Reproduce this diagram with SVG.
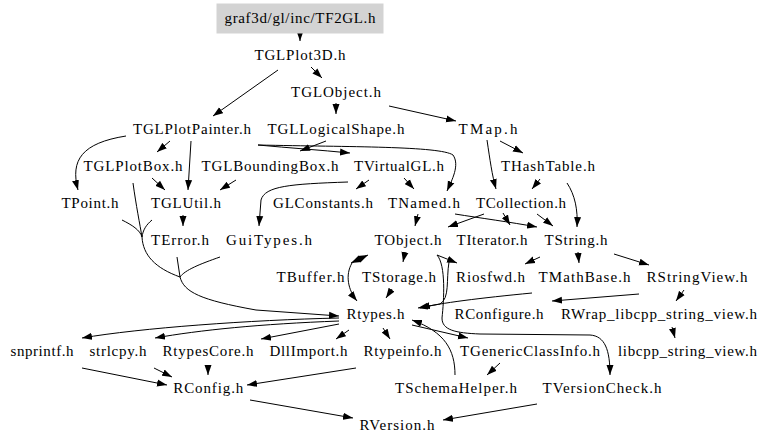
<svg xmlns="http://www.w3.org/2000/svg" width="768" height="447" viewBox="0 0 768 447">
<defs>
<style>
text{font-family:"Liberation Serif","Times New Roman",serif;font-size:15px;fill:#000;text-anchor:middle}
.e{fill:none;stroke:#000;stroke-width:1}
.a{marker-end:url(#ah)}
</style>
<marker id="ah" markerUnits="userSpaceOnUse" markerWidth="10" markerHeight="8" refX="10" refY="4" orient="auto"><path d="M0,0.5 L10,4 L0,7.5 z" fill="#000"/></marker>
</defs>
<rect width="768" height="447" fill="#fff"/>
<g id="edges">
<path class="e a" d="M300,33 L300,41"/>
<path class="e a" d="M311,67 L322,78"/>
<path class="e a" d="M278,70 L213,116"/>
<path class="e a" d="M336,103 L336,114"/>
<path class="e a" d="M389,106 L456,121"/>
<path class="e a" d="M170,141 L157,152"/>
<path class="e a" d="M191,141 L188,190"/>
<path class="e a" d="M126,136 C82,143 70,160 78,190"/>
<path class="e a" d="M258,145 C290,148 320,150 350,153"/>
<path class="e a" d="M258,145 C350,147 440,146 453,155 C460,165 452,180 447,191"/>
<path class="e a" d="M326,141 L300,151"/>
<path class="e a" d="M500,141 L523,153"/>
<path class="e a" d="M487,140 C490,160 492,175 496,189"/>
<path class="e a" d="M152,178 L165,190"/>
<path class="e a" d="M236,180 L220,190"/>
<path class="e a" d="M369,180 L356,189"/>
<path class="e a" d="M404,178 L414,189"/>
<path class="e a" d="M348,182 C290,184 265,186 261,200 L259,226"/>
<path class="e a" d="M540,179 L532,189"/>
<path class="e a" d="M567,183 C575,195 578,210 577,227"/>
<path class="e a" d="M418,214 L415,226"/>
<path class="e a" d="M484,214 L448,227"/>
<path class="e a" d="M455,214 C480,218 510,222 537,227"/>
<path class="e a" d="M503,213 L510,225"/>
<path class="e a" d="M537,214 L553,226"/>
<path class="e a" d="M183,215 L183,226"/>
<path class="e a" d="M405,252 L403,262"/>
<path class="e a" d="M366,256 L351,263"/>
<path class="e a" d="M353,262 L368,255"/>
<path class="e a" d="M352,263 C345,275 348,290 357,301"/>
<path class="e a" d="M437,255 L457,263"/>
<path class="e a" d="M437,255 C446,265 444,300 442,318 C442,330 455,333 480,334 L590,335 C605,336 610,350 610,375"/>
<path class="e a" d="M449,262 C446,280 450,298 440,304 L418,308"/>
<path class="e a" d="M540,257 L525,264"/>
<path class="e a" d="M578,252 L579,263"/>
<path class="e a" d="M614,254 L649,265"/>
<path class="e a" d="M532,293 C480,298 440,303 420,308"/>
<path class="e a" d="M639,294 L552,301"/>
<path class="e a" d="M684,290 L676,301"/>
<path class="e a" d="M672,327 L675,338"/>
<path class="e a" d="M392,289 L386,298"/>
<path class="e" d="M133,183 C136,205 140,225 142,237"/>
<path class="e" d="M122,220 C132,225 140,230 142,237"/>
<path class="e" d="M152,220 C146,225 143,230 142,237"/>
<path class="e" d="M142,237 C143,255 155,268 180,277"/>
<path class="e" d="M177,257 L180,277"/>
<path class="e" d="M220,257 C200,264 185,270 180,277"/>
<path class="e a" d="M180,277 C184,292 200,300 256,310 L339,316"/>
<path class="e a" d="M339,318 C250,320 140,328 82,338"/>
<path class="e a" d="M339,321 C260,324 200,330 155,338"/>
<path class="e a" d="M339,324 L261,339"/>
<path class="e a" d="M349,330 L336,339"/>
<path class="e a" d="M383,328 L390,339"/>
<path class="e a" d="M412,325 L468,338"/>
<path class="e a" d="M455,375 C455,350 445,332 412,320"/>
<path class="e a" d="M500,363 L487,375"/>
<path class="e a" d="M82,368 L167,385"/>
<path class="e a" d="M154,368 L172,377"/>
<path class="e a" d="M208,365 L208,375"/>
<path class="e a" d="M356,368 L247,385"/>
<path class="e a" d="M250,400 L353,418"/>
<path class="e a" d="M537,404 L443,420"/>
</g>
<g id="n_TF2GL"><rect x="216.5" y="3.5" width="167" height="30" fill="#d3d3d3"/><text x="300" y="23" textLength="151" lengthAdjust="spacing">graf3d/gl/inc/TF2GL.h</text></g>
<g id="n_TGLPlot3D"><text x="300" y="60" textLength="91" lengthAdjust="spacing">TGLPlot3D.h</text></g>
<g id="n_TGLObject"><text x="336" y="97" textLength="90" lengthAdjust="spacing">TGLObject.h</text></g>
<g id="n_TGLPlotPainter"><text x="192" y="134" textLength="118" lengthAdjust="spacing">TGLPlotPainter.h</text></g>
<g id="n_TGLLogicalShape"><text x="336" y="134" textLength="137" lengthAdjust="spacing">TGLLogicalShape.h</text></g>
<g id="n_TMap"><text x="488" y="134" textLength="59" lengthAdjust="spacing">TMap.h</text></g>
<g id="n_TGLPlotBox"><text x="133" y="171" textLength="99" lengthAdjust="spacing">TGLPlotBox.h</text></g>
<g id="n_TGLBoundingBox"><text x="270" y="171" textLength="137" lengthAdjust="spacing">TGLBoundingBox.h</text></g>
<g id="n_TVirtualGL"><text x="399" y="171" textLength="90" lengthAdjust="spacing">TVirtualGL.h</text></g>
<g id="n_THashTable"><text x="548" y="171" textLength="94" lengthAdjust="spacing">THashTable.h</text></g>
<g id="n_TPoint"><text x="90" y="208" textLength="57" lengthAdjust="spacing">TPoint.h</text></g>
<g id="n_TGLUtil"><text x="186" y="208" textLength="70" lengthAdjust="spacing">TGLUtil.h</text></g>
<g id="n_GLConstants"><text x="323" y="208" textLength="100" lengthAdjust="spacing">GLConstants.h</text></g>
<g id="n_TNamed"><text x="424" y="208" textLength="72" lengthAdjust="spacing">TNamed.h</text></g>
<g id="n_TCollection"><text x="521" y="208" textLength="90" lengthAdjust="spacing">TCollection.h</text></g>
<g id="n_TError"><text x="180" y="245" textLength="58" lengthAdjust="spacing">TError.h</text></g>
<g id="n_GuiTypes"><text x="269" y="245" textLength="86" lengthAdjust="spacing">GuiTypes.h</text></g>
<g id="n_TObject"><text x="408" y="245" textLength="67" lengthAdjust="spacing">TObject.h</text></g>
<g id="n_TIterator"><text x="492" y="245" textLength="71" lengthAdjust="spacing">TIterator.h</text></g>
<g id="n_TString"><text x="576" y="245" textLength="63" lengthAdjust="spacing">TString.h</text></g>
<g id="n_TBuffer"><text x="310.5" y="282" textLength="68" lengthAdjust="spacing">TBuffer.h</text></g>
<g id="n_TStorage"><text x="399" y="282" textLength="74" lengthAdjust="spacing">TStorage.h</text></g>
<g id="n_Riosfwd"><text x="490.5" y="282" textLength="69" lengthAdjust="spacing">Riosfwd.h</text></g>
<g id="n_TMathBase"><text x="584.5" y="282" textLength="92" lengthAdjust="spacing">TMathBase.h</text></g>
<g id="n_RStringView"><text x="697" y="282" textLength="101" lengthAdjust="spacing">RStringView.h</text></g>
<g id="n_Rtypes"><text x="375.5" y="319" textLength="58" lengthAdjust="spacing">Rtypes.h</text></g>
<g id="n_RConfigure"><text x="499" y="319" textLength="89" lengthAdjust="spacing">RConfigure.h</text></g>
<g id="n_RWrap"><text x="659" y="319" textLength="196" lengthAdjust="spacing">RWrap_libcpp_string_view.h</text></g>
<g id="n_snprintf"><text x="42" y="356" textLength="63" lengthAdjust="spacing">snprintf.h</text></g>
<g id="n_strlcpy"><text x="118" y="356" textLength="57" lengthAdjust="spacing">strlcpy.h</text></g>
<g id="n_RtypesCore"><text x="208" y="356" textLength="91" lengthAdjust="spacing">RtypesCore.h</text></g>
<g id="n_DllImport"><text x="308.5" y="356" textLength="78" lengthAdjust="spacing">DllImport.h</text></g>
<g id="n_Rtypeinfo"><text x="402.5" y="356" textLength="78" lengthAdjust="spacing">Rtypeinfo.h</text></g>
<g id="n_TGenericClassInfo"><text x="530" y="356" textLength="140" lengthAdjust="spacing">TGenericClassInfo.h</text></g>
<g id="n_libcpp"><text x="687.5" y="356" textLength="139" lengthAdjust="spacing">libcpp_string_view.h</text></g>
<g id="n_RConfig"><text x="208.3" y="393" textLength="70" lengthAdjust="spacing">RConfig.h</text></g>
<g id="n_TSchemaHelper"><text x="456" y="393" textLength="122" lengthAdjust="spacing">TSchemaHelper.h</text></g>
<g id="n_TVersionCheck"><text x="602" y="393" textLength="119" lengthAdjust="spacing">TVersionCheck.h</text></g>
<g id="n_RVersion"><text x="397" y="430" textLength="75" lengthAdjust="spacing">RVersion.h</text></g>
</svg>
